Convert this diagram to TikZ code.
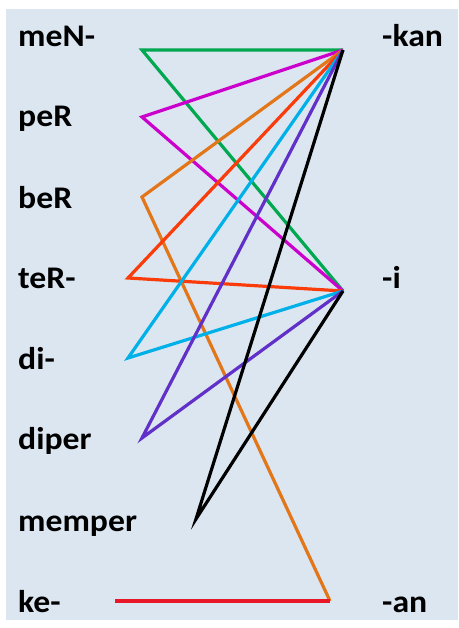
\documentclass[tikz,border=0pt]{standalone}
\usepackage{fontspec}
\setmainfont{Carlito}[FakeStretch=1.07]
\usepackage{tikz}
\usetikzlibrary{positioning, calc}

\definecolor{bgblue}{RGB}{220,230,241}
\definecolor{cGreen}{RGB}{0,168,80}
\definecolor{cMagenta}{RGB}{204,0,204}
\definecolor{cOrange}{RGB}{226,118,24}
\definecolor{cRedOr}{RGB}{250,60,10}
\definecolor{cCyan}{RGB}{0,176,232}
\definecolor{cPurple}{RGB}{96,48,200}
\definecolor{cRed}{RGB}{232,24,40}

\begin{document}
\begin{tikzpicture}[
    x=1bp, y=-1bp,
    % --- STYLES ---
    affix/.style={
        anchor=base west, inner sep=0pt,
        font=\fontsize{31.5bp}{31.5bp}\selectfont\bfseries
    },
    link/.style={line width=3.2bp, line join=miter, line cap=butt}
]

% ===== 1. FRAME =====
\useasboundingbox (0,0) rectangle (459,628);
\fill[bgblue] (6,9) rectangle (458,620);

% ===== 2. PREFIXES (left column) =====
\node[affix] (meN)    at (18,47)  {meN-};
\node[affix] (peR)    at (18,127) {peR};
\node[affix] (beR)    at (18,208) {beR};
\node[affix] (teR)    at (18,288) {teR-};
\node[affix] (di)     at (18,369) {di-};
\node[affix] (diper)  at (18,449) {diper};
\node[affix] (memper) at (18,531) {memper};
\node[affix] (ke)     at (18,612) {ke-};

% ===== 3. SUFFIXES (right column) =====
\node[affix] (kan) at (382,47)  {-kan};
\node[affix] (i)   at (382,288) {-i};
\node[affix] (an)  at (382,612) {-an};

% ===== 4. END POINTS =====
\coordinate (pmeN)    at (142,50);
\coordinate (ppeR)    at (142,117);
\coordinate (pbeR)    at (142,197);
\coordinate (pteR)    at (128,278);
\coordinate (pdi)     at (128,358);
\coordinate (pdiper)  at (142,438);
\coordinate (pmemper) at (196,519);
\coordinate (pke)     at (115,601);

\coordinate (pkan) at (343,50);
\coordinate (pi)   at (343,291);
\coordinate (pan)  at (330,601);

% ===== 5. CONNECTIONS =====
\draw[link, cGreen]   (pi) -- (pmeN) -- (pkan);
\draw[link, cMagenta] (pkan) -- (ppeR) -- (pi);
\draw[link, cOrange]  (pkan) -- (pbeR) -- (pan);
\draw[link, cRedOr]   (pkan) -- (pteR) -- (pi);
\draw[link, cCyan]    (pkan) -- (pdi) -- (pi);
\draw[link, cPurple]  (pkan) -- (pdiper) -- (pi);
\draw[link, black]    (pkan) -- (pmemper) -- (pi);
\draw[link, cRed]     (pke) -- (pan);

\end{tikzpicture}
\end{document}
